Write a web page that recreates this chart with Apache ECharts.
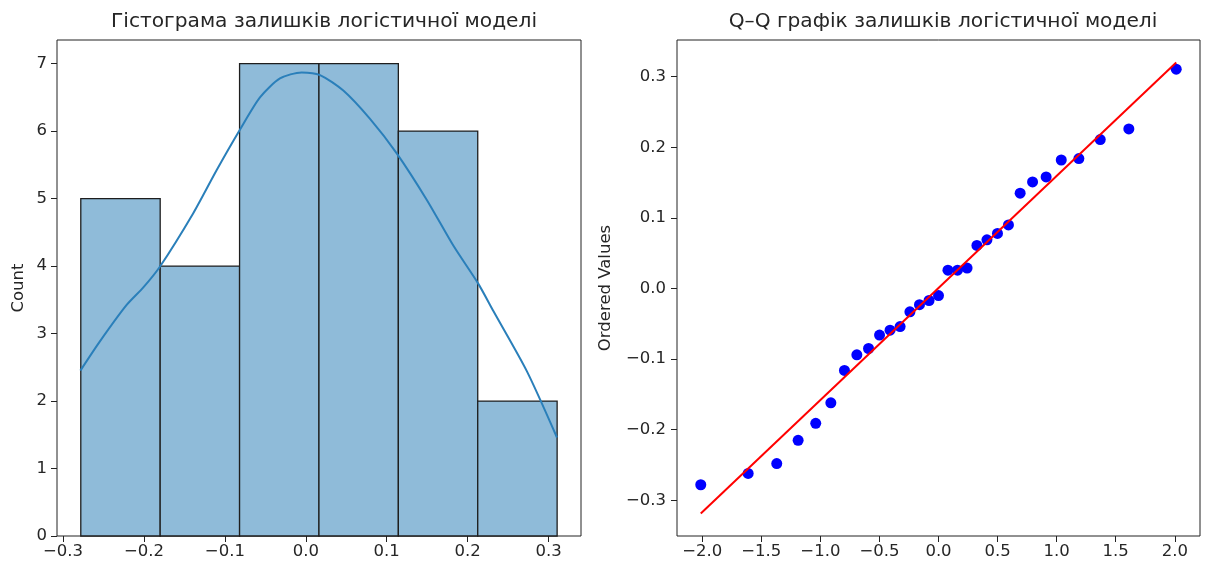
<!DOCTYPE html>
<html>
<head>
<meta charset="utf-8">
<script src="https://cdn.jsdelivr.net/npm/echarts@6/dist/echarts.min.js"></script>
<style>
html,body{margin:0;padding:0;background:#fff;}
#chart{width:1206px;height:565px;}
</style>
</head>
<body>
<div id="chart"></div>
<script>
// ---- Histogram of residuals ----
const histEdges = [-0.278, -0.1799, -0.0818, 0.0163, 0.1144, 0.2125, 0.3106];
const histCounts = [5, 4, 7, 7, 6, 2];
const histXTicks = [-0.3, -0.2, -0.1, 0.0, 0.1, 0.2, 0.3];
const histYTicks = [0, 1, 2, 3, 4, 5, 6, 7];

// KDE curve (count scale)
const kdeX = [-0.2785, -0.2546, -0.2216, -0.2010, -0.1803, -0.1392, -0.1102, -0.0814, -0.0566, -0.0319, -0.0051, 0.0176, 0.0464, 0.0794, 0.1124, 0.1496, 0.1825, 0.2131, 0.2320, 0.2733, 0.3104];
const kdeY = [2.45, 2.88, 3.42, 3.68, 3.99, 4.78, 5.42, 6.02, 6.50, 6.78, 6.87, 6.83, 6.60, 6.18, 5.67, 4.98, 4.30, 3.74, 3.33, 2.44, 1.46];

// ---- Q-Q plot ----
const theoreticalQuantiles = [-2.012, -1.611, -1.369, -1.188, -1.039, -0.911, -0.796, -0.691, -0.592, -0.499, -0.410, -0.325, -0.242, -0.161, -0.080, 0.000, 0.080, 0.161, 0.242, 0.325, 0.410, 0.499, 0.592, 0.691, 0.796, 0.911, 1.039, 1.188, 1.369, 1.611, 2.012];
const orderedValues = [-0.278, -0.262, -0.248, -0.215, -0.191, -0.162, -0.116, -0.094, -0.085, -0.066, -0.059, -0.054, -0.033, -0.023, -0.017, -0.010, 0.026, 0.026, 0.029, 0.061, 0.069, 0.078, 0.090, 0.135, 0.151, 0.158, 0.182, 0.184, 0.211, 0.226, 0.3106];
const fitLineX = [-2.012, 2.012];
const fitLineY = [-0.3187, 0.3201];
const qqXTicks = [-2.0, -1.5, -1.0, -0.5, 0.0, 0.5, 1.0, 1.5, 2.0];
const qqYTicks = [-0.3, -0.2, -0.1, 0.0, 0.1, 0.2, 0.3];

const FONT = 'DejaVu Sans';
const TXT = '#262626';
const TICK_FS = 16.5;
function fmt1(v) {
  const s = (Math.abs(v) < 1e-9 ? 0 : v).toFixed(1);
  return s.replace('-', '\u2212');
}
function valueAxis(gridIndex, min, max, ticks, formatter, margin) {
  return {
    type: 'value', gridIndex: gridIndex, min: min, max: max, scale: true,
    splitLine: { show: false },
    axisLine: { show: false, onZero: false },
    axisTick: { show: true, inside: false, length: 6, customValues: ticks, lineStyle: { color: '#222', width: 1 } },
    axisLabel: { show: true, customValues: ticks, formatter: formatter, margin: margin,
                 fontFamily: FONT, fontSize: TICK_FS, color: TXT }
  };
}

const histData = histCounts.map((c, i) => [histEdges[i], histEdges[i + 1], c]);
const kdeData = kdeX.map((x, i) => [x, kdeY[i]]);
const qqData = theoreticalQuantiles.map((x, i) => [x, orderedValues[i]]);
const fitData = fitLineX.map((x, i) => [x, fitLineY[i]]);

const chart = echarts.init(document.getElementById('chart'), null, { renderer: 'canvas' });
const option = {
  animation: false,
  backgroundColor: '#fff',
  title: [
    { text: 'Гістограма залишків логістичної моделі', left: 319, top: 7, textAlign: 'center',
      textStyle: { fontFamily: FONT, fontSize: 20.2, fontWeight: 'normal', color: TXT } },
    { text: 'Q–Q графік залишків логістичної моделі', left: 938, top: 7, textAlign: 'center',
      textStyle: { fontFamily: FONT, fontSize: 20.2, fontWeight: 'normal', color: TXT } }
  ],
  grid: [
    { left: 57, top: 40, width: 524, height: 496, show: true, borderColor: '#222', borderWidth: 1, backgroundColor: 'transparent', containLabel: false },
    { left: 677, top: 40, width: 523, height: 496, show: true, borderColor: '#222', borderWidth: 1, backgroundColor: 'transparent', containLabel: false }
  ],
  xAxis: [
    valueAxis(0, -0.3074, 0.3401, histXTicks, fmt1, 7),
    valueAxis(1, -2.2132, 2.2132, qqXTicks, fmt1, 7)
  ],
  yAxis: [
    Object.assign(valueAxis(0, 0, 7.35, histYTicks, v => String(Math.round(v)), 10), {
      name: 'Count', nameLocation: 'middle', nameGap: 30, nameRotate: 90,
      nameTextStyle: { fontFamily: FONT, fontSize: TICK_FS, color: TXT }
    }),
    Object.assign(valueAxis(1, -0.3506, 0.352, qqYTicks, fmt1, 11), {
      name: 'Ordered Values', nameLocation: 'middle', nameGap: 63, nameRotate: 90,
      nameTextStyle: { fontFamily: FONT, fontSize: TICK_FS, color: TXT }
    })
  ],
  series: [
    {
      type: 'custom', xAxisIndex: 0, yAxisIndex: 0, data: histData,
      encode: { x: [0, 1], y: 2 },
      renderItem: function (params, api) {
        const x0 = api.value(0), x1 = api.value(1), c = api.value(2);
        const p0 = api.coord([x0, c]);
        const p1 = api.coord([x1, 0]);
        return {
          type: 'rect',
          shape: { x: p0[0], y: p0[1], width: p1[0] - p0[0], height: p1[1] - p0[1] },
          style: { fill: '#8fbbd9', stroke: '#1e1e1e', lineWidth: 1.3 }
        };
      },
      z: 2
    },
    {
      type: 'line', xAxisIndex: 0, yAxisIndex: 0, data: kdeData, smooth: 0.25,
      showSymbol: false, symbol: 'none',
      lineStyle: { color: '#2a7fba', width: 2 }, itemStyle: { color: '#2a7fba' }, z: 3
    },
    {
      type: 'scatter', xAxisIndex: 1, yAxisIndex: 1, data: qqData,
      symbol: 'circle', symbolSize: 11, itemStyle: { color: '#0000ff', opacity: 1 }, z: 2
    },
    {
      type: 'line', xAxisIndex: 1, yAxisIndex: 1, data: fitData,
      showSymbol: false, symbol: 'none',
      lineStyle: { color: '#ff0000', width: 2 }, z: 3
    }
  ]
};
chart.setOption(option);
</script>
</body>
</html>
